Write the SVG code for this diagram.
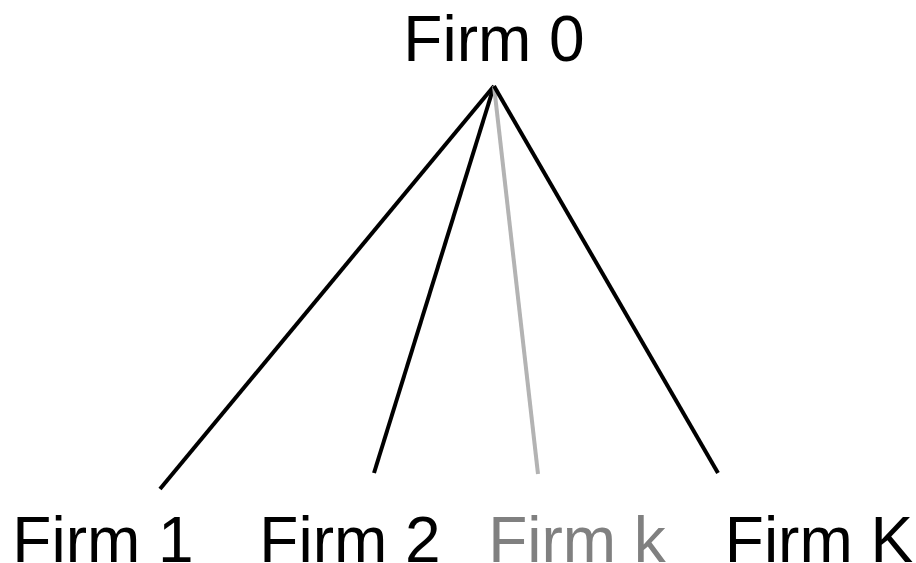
<svg xmlns="http://www.w3.org/2000/svg" width="916" height="563" viewBox="0 0 916 563">
<style>
text{font-family:"Liberation Sans",Arial,sans-serif;font-size:64px;text-anchor:middle;fill:#000}
.edge{stroke:#000;stroke-width:4;fill:none}
.grey{stroke:#b3b3b3}
.gt{fill:#808080}
</style>
<rect width="916" height="563" fill="#fff"/>
<g id="connectors">
<line class="edge" x1="494" y1="86" x2="160" y2="489"/>
<line class="edge" x1="494" y1="86" x2="374" y2="473"/>
<line class="edge grey" x1="494" y1="86" x2="538" y2="474"/>
<line class="edge" x1="494" y1="86" x2="718" y2="473"/>
</g>
<g id="firm0"><text x="494" y="61">Firm 0</text></g>
<g id="firm1"><text x="103" y="562">Firm 1</text></g>
<g id="firm2"><text x="350" y="562">Firm 2</text></g>
<g id="firmk"><text class="gt" x="577" y="562">Firm k</text></g>
<g id="firmK"><text x="819" y="562">Firm K</text></g>
</svg>
